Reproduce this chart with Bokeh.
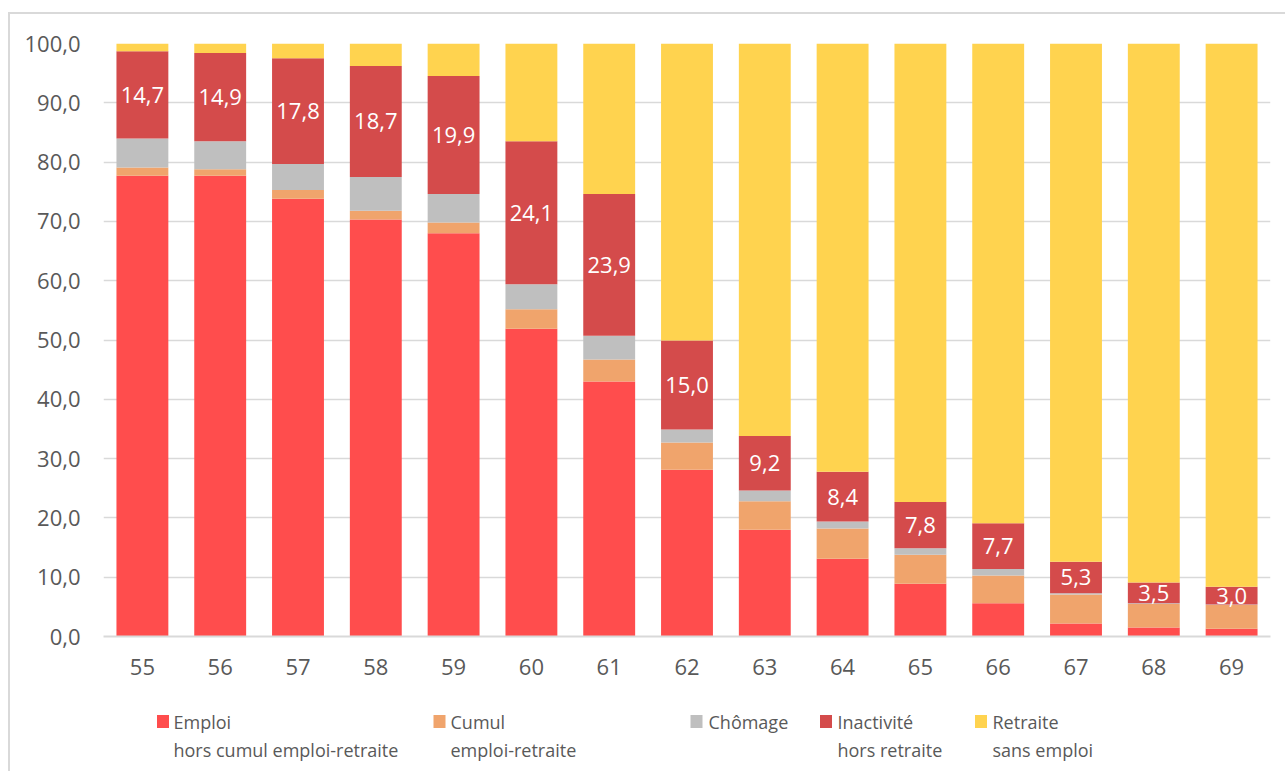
from bokeh.plotting import figure
from bokeh.models import Range1d, FactorRange, ColumnDataSource, FixedTicker
from bokeh.layouts import column
from bokeh.embed import file_html
from bokeh.resources import INLINE
from bokeh.core.properties import value

ages = ["55", "56", "57", "58", "59", "60", "61", "62", "63", "64", "65", "66", "67", "68", "69"]
emploi = [77.7, 77.7, 73.8, 70.3, 68.0, 51.9, 43.0, 28.1, 18.0, 13.1, 8.9, 5.6, 2.2, 1.5, 1.3]
cumul = [1.4, 1.1, 1.5, 1.5, 1.8, 3.3, 3.7, 4.6, 4.8, 5.1, 4.9, 4.7, 4.9, 4.0, 4.0]
chomage = [4.9, 4.7, 4.4, 5.7, 4.8, 4.2, 4.0, 2.2, 1.8, 1.2, 1.1, 1.1, 0.2, 0.1, 0.1]
inactivite = [14.7, 14.9, 17.8, 18.7, 19.9, 24.1, 23.9, 15.0, 9.2, 8.4, 7.8, 7.7, 5.3, 3.5, 3.0]
retraite = [1.3, 1.6, 2.5, 3.8, 5.5, 16.5, 25.4, 50.1, 66.2, 72.2, 77.3, 80.9, 87.4, 90.9, 91.6]

series_keys = ["emploi", "cumul", "chomage", "inactivite", "retraite"]
series_colors = ["#FF4D4D", "#F0A46C", "#BFBFBF", "#D44B4B", "#FFD34F"]
legend_line1 = ["Emploi", "Cumul", "Chômage", "Inactivité", "Retraite"]
legend_line2 = ["hors cumul emploi-retraite", "emploi-retraite", "", "hors retraite", "sans emploi"]
y_ticks = [0, 10, 20, 30, 40, 50, 60, 70, 80, 90, 100]

FONT = "Open Sans"
GREY_TXT = "#595959"
GRID = "#D9D9D9"
EDGE = "linear-gradient(#D9D9D9, #D9D9D9)"

src = ColumnDataSource(dict(ages=ages, emploi=emploi, cumul=cumul, chomage=chomage,
                            inactivite=inactivite, retraite=retraite))

p = figure(x_range=FactorRange(*ages), y_range=Range1d(0, 100),
           width=1285, height=689, output_backend="svg", toolbar_location=None,
           min_border_left=103, min_border_right=15, min_border_top=43, min_border_bottom=53)
p.outline_line_color = None
p.background_fill_color = "white"
p.border_fill_color = None
p.styles = {"background": f"{EDGE} 8px 12px / 2px 100% no-repeat, "
                          f"{EDGE} 8px 12px / 100% 2px no-repeat, white"}

p.vbar_stack(series_keys, x="ages", width=0.667, color=series_colors, source=src,
             line_color=None)

# data labels on the "Inactivité" segment
lab_y = [e + c + ch + i / 2 for e, c, ch, i in zip(emploi, cumul, chomage, inactivite)]
lab_t = [f"{v:.1f}".replace(".", ",") for v in inactivite]
p.text(x=ages, y=lab_y, text=lab_t, text_color="white", text_align="center",
       text_baseline="middle", text_font=value(FONT), text_font_size="22px")

p.yaxis.ticker = FixedTicker(ticks=y_ticks)
p.yaxis.major_label_overrides = {t: f"{t:.1f}".replace(".", ",") for t in y_ticks}
p.yaxis.axis_line_color = None
p.yaxis.major_tick_line_color = None
p.yaxis.minor_tick_line_color = None
p.yaxis.major_tick_out = 0
p.yaxis.major_tick_in = 0
p.yaxis.major_label_standoff = 23
p.yaxis.major_label_text_font = FONT
p.yaxis.major_label_text_font_size = "22px"
p.yaxis.major_label_text_color = GREY_TXT

p.xaxis.axis_line_color = GRID
p.xaxis.axis_line_width = 2
p.xaxis.major_tick_line_color = None
p.xaxis.minor_tick_line_color = None
p.xaxis.major_tick_out = 0
p.xaxis.major_tick_in = 0
p.xaxis.major_label_standoff = 22
p.xaxis.major_label_text_font = FONT
p.xaxis.major_label_text_font_size = "22px"
p.xaxis.major_label_text_color = GREY_TXT

p.xgrid.grid_line_color = None
p.ygrid.grid_line_color = GRID
p.ygrid.grid_line_width = 1.5

# legend as a separate strip below; its frame is aligned with the main frame (x 103..1270)
leg_y0 = 690
leg = figure(width=1285, height=82, output_backend="svg", toolbar_location=None,
             x_range=Range1d(103, 1270), y_range=Range1d(leg_y0 + 82, leg_y0),
             min_border_left=103, min_border_right=15, min_border_top=0, min_border_bottom=0)
leg.axis.visible = False
leg.grid.visible = False
leg.outline_line_color = None
leg.background_fill_color = None
leg.border_fill_color = None
leg.styles = {"background": f"{EDGE} 8px 0px / 2px 100% no-repeat, white"}

sq_x = [162.5, 439, 696, 825.5, 980.5]
tx_x = [173, 450, 708, 837, 992]
leg.rect(x=sq_x, y=[722] * 5, width=12, height=13, color=series_colors, line_color=None)
leg.text(x=tx_x, y=[722] * 5, text=legend_line1, text_color=GREY_TXT, text_baseline="middle",
         text_font=value(FONT), text_font_size="18px")
leg.text(x=tx_x, y=[750] * 5, text=legend_line2, text_color=GREY_TXT, text_baseline="middle",
         text_font=value(FONT), text_font_size="18px")

layout = column(p, leg)

open("out.html", "w").write(file_html(layout, INLINE))
